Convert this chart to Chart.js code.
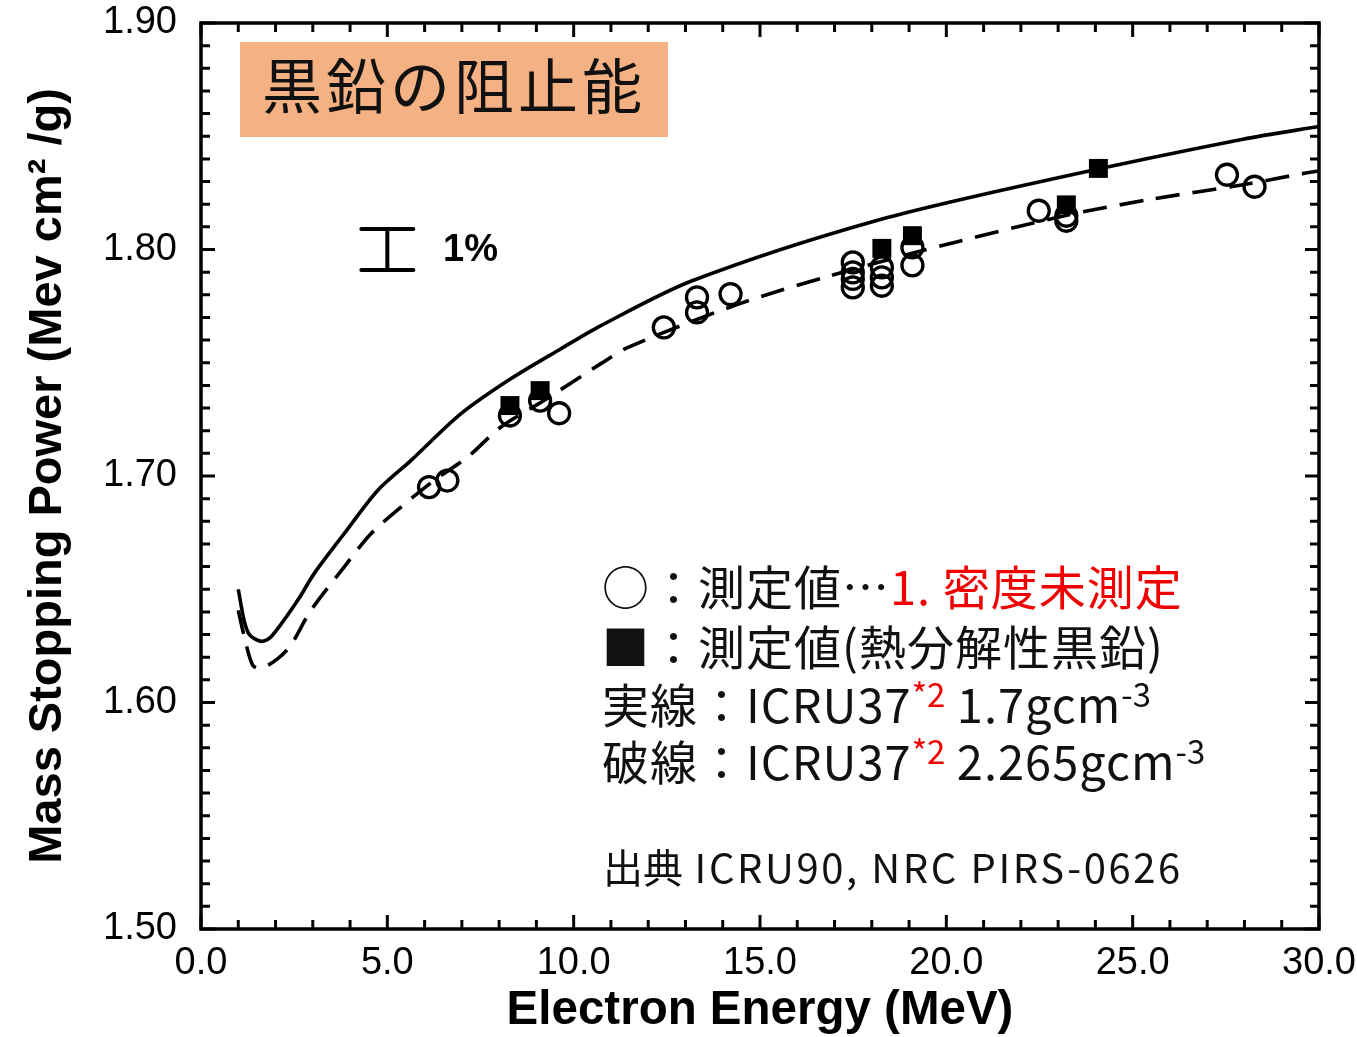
<!DOCTYPE html>
<html>
<head>
<meta charset="utf-8">
<script src="https://cdn.jsdelivr.net/npm/chart.js@4/dist/chart.umd.min.js"></script>
<style>
  html, body { margin: 0; padding: 0; background: #fff; }
  #wrap { position: relative; width: 1357px; height: 1037px; overflow: hidden; }
  canvas { position: absolute; left: 0; top: 0; }
  .ann { position: absolute; white-space: nowrap; font-family: "Noto Sans CJK JP", "Noto Sans", sans-serif; color: #111; line-height: 1; }
  .leg { letter-spacing: 1px; }
  .lat { letter-spacing: 2.6px; }
  .red { color: #f00000; }
  sup { font-size: 0.7em; vertical-align: 0; position: relative; top: -0.5em; line-height: 0; letter-spacing: 0; }
  #titlebox { position: absolute; left: 240px; top: 42px; width: 428px; height: 95px; background: #f4b183; }
</style>
</head>
<body>
<div id="wrap">
  <canvas id="c" width="1357" height="1037"></canvas>
  <div id="titlebox"></div>
  <div class="ann" style="left:262px; top:53px; font-size:60px; letter-spacing:4px;">黒鉛の阻止能</div>
  <div class="ann" style="left:443px; top:229px; font-size:38px; font-weight:bold; font-family:'Liberation Sans', Arial, sans-serif; color:#000;">1%</div>
  <div class="ann leg" style="left:602px; top:561px; font-size:47px;">○：測定値…<span class="red">1. 密度未測定</span></div>
  <div class="ann leg" style="left:602px; top:621px; font-size:47px;">■：測定値(熱分解性黒鉛)</div>
  <div class="ann leg" style="left:602px; top:679px; font-size:47px;">実線：ICRU37<sup class="red">*2</sup> 1.7gcm<sup>-3</sup></div>
  <div class="ann leg" style="left:602px; top:736px; font-size:47px;">破線：ICRU37<sup class="red">*2</sup> 2.265gcm<sup>-3</sup></div>
  <div class="ann" style="left:603px; top:846px; font-size:40px;">出典<span class="lat"> ICRU90, NRC PIRS-0626</span></div>
</div>
<script>
// ---- Data ----
// Solid line: ICRU37, density 1.7 g/cm3
const solidE = [1.0, 1.16, 1.30, 1.61, 1.88, 2.59, 3.04, 3.84, 4.74, 5.63, 6.97, 8.31, 9.65, 10.72, 13.18, 18.11, 23.03, 27.96, 30.0];
const solidV = [1.650, 1.636, 1.630, 1.627, 1.629, 1.645, 1.657, 1.6745, 1.6936, 1.7068, 1.7274, 1.7429, 1.7561, 1.7663, 1.7862, 1.8127, 1.8318, 1.8487, 1.8543];
// Dashed line: ICRU37, density 2.265 g/cm3
const dashE = [1.0, 1.16, 1.39, 1.61, 2.06, 2.41, 2.95, 3.84, 4.56, 5.36, 6.25, 7.15, 8.04, 9.20, 10.72, 11.46, 14.42, 16.88, 19.34, 23.03, 25.50, 27.96, 29.56, 30.0];
const dashV = [1.6407, 1.6292, 1.6164, 1.6151, 1.6194, 1.6253, 1.6407, 1.6598, 1.6745, 1.6862, 1.6980, 1.7083, 1.7215, 1.7333, 1.7495, 1.7568, 1.7759, 1.7884, 1.7994, 1.8144, 1.8222, 1.8286, 1.8335, 1.8347];
// Open circles: measured values (density not measured)
const circleE = [6.12, 6.61, 8.29, 9.10, 9.61, 12.42, 13.31, 13.31, 14.21, 17.49, 17.49, 17.49, 17.49, 18.27, 18.27, 18.27, 19.09, 19.09, 22.48, 23.22, 23.22, 27.53, 28.27];
const circleV = [1.6951, 1.6980, 1.7267, 1.7333, 1.7277, 1.7656, 1.7789, 1.7722, 1.7803, 1.7943, 1.7899, 1.7870, 1.7833, 1.7921, 1.7877, 1.7840, 1.8009, 1.7930, 1.8171, 1.8149, 1.8127, 1.8330, 1.8277];
// Filled squares: measured values (pyrolytic graphite)
const squareE = [8.29, 9.10, 18.27, 19.09, 23.22, 24.08];
const squareV = [1.7311, 1.7377, 1.8005, 1.8061, 1.8197, 1.8358];
// Axes
const xTickLabels = ['0.0', '5.0', '10.0', '15.0', '20.0', '25.0', '30.0'];
const yTickLabels = ['1.50', '1.60', '1.70', '1.80', '1.90'];
const xMin = 0, xMax = 30, xMajor = 5, xMinor = 1;
const yMin = 1.50, yMax = 1.90, yMajor = 0.1, yMinor = 0.01;
// 1% error bar marker
const errBarE = 5.0, errBarV = 1.80, errBarHalf = 0.009;

const pts = (xs, ys) => xs.map((x, i) => ({ x: x, y: ys[i] }));

const framePlugin = {
  id: 'frame',
  afterDatasetsDraw(chart) {
    const { ctx, chartArea: a, scales: { x, y } } = chart;
    ctx.save();
    ctx.strokeStyle = '#000';
    ctx.lineWidth = 3.5;
    ctx.strokeRect(a.left, a.top, a.right - a.left, a.bottom - a.top);
    ctx.lineWidth = 3;
    ctx.beginPath();
    const nx = Math.round((xMax - xMin) / xMinor);
    for (let i = 0; i <= nx; i++) {
      const v = xMin + i * xMinor;
      const px = x.getPixelForValue(v);
      const major = Math.abs(v / xMajor - Math.round(v / xMajor)) < 1e-6;
      const len = major ? 14 : 9;
      ctx.moveTo(px, a.bottom); ctx.lineTo(px, a.bottom - len);
      ctx.moveTo(px, a.top); ctx.lineTo(px, a.top + len);
    }
    const ny = Math.round((yMax - yMin) / yMinor);
    for (let i = 0; i <= ny; i++) {
      const v = yMin + i * yMinor;
      const py = y.getPixelForValue(v);
      const major = i % Math.round(yMajor / yMinor) === 0;
      const len = major ? 14 : 9;
      ctx.moveTo(a.left, py); ctx.lineTo(a.left + len, py);
      ctx.moveTo(a.right, py); ctx.lineTo(a.right - len, py);
    }
    ctx.stroke();
    // 1% error bar
    const ex = x.getPixelForValue(errBarE);
    const ey1 = y.getPixelForValue(errBarV + errBarHalf);
    const ey2 = y.getPixelForValue(errBarV - errBarHalf);
    ctx.lineWidth = 4;
    ctx.lineCap = 'round';
    ctx.beginPath();
    ctx.moveTo(ex, ey1); ctx.lineTo(ex, ey2);
    ctx.moveTo(ex - 26, ey1); ctx.lineTo(ex + 26, ey1);
    ctx.moveTo(ex - 26, ey2); ctx.lineTo(ex + 26, ey2);
    ctx.stroke();
    ctx.restore();
  }
};

const zeroPad = (s) => { s.paddingTop = 0; s.paddingBottom = 0; s.paddingLeft = 0; s.paddingRight = 0; };

new Chart(document.getElementById('c'), {
  type: 'scatter',
  data: {
    datasets: [
      { label: 'ICRU37 1.7', data: pts(solidE, solidV), showLine: true, borderColor: '#000', borderWidth: 3.6,
        pointRadius: 0, tension: 0.3, order: 0 },
      { label: 'ICRU37 2.265', data: pts(dashE, dashV), showLine: true, borderColor: '#000', borderWidth: 3.6,
        borderDash: [24, 13], pointRadius: 0, tension: 0.3, order: 1 },
      { label: 'measured', data: pts(circleE, circleV), pointStyle: 'circle', pointRadius: 10.5,
        pointBorderWidth: 3.3, pointBorderColor: '#000', pointBackgroundColor: 'rgba(0,0,0,0)', order: 2 },
      { label: 'pyrolytic', data: pts(squareE, squareV), pointStyle: 'rect', pointRadius: 13.4,
        pointBorderWidth: 0, pointBackgroundColor: '#000', pointBorderColor: '#000', order: 3 }
    ]
  },
  options: {
    responsive: false,
    animation: false,
    devicePixelRatio: 1,
    layout: { padding: { left: 0, right: 38, top: 23, bottom: 0 } },
    plugins: { legend: { display: false }, tooltip: { enabled: false } },
    scales: {
      x: {
        type: 'linear', min: xMin, max: xMax,
        grid: { display: false, drawTicks: false },
        border: { display: false },
        ticks: {
          stepSize: xMajor, padding: 12, color: '#000',
          font: { family: "'Liberation Sans', Arial, sans-serif", size: 38 },
          maxRotation: 0,
          callback: (v) => xTickLabels[Math.round((v - xMin) / xMajor)]
        },
        title: {
          display: true, text: 'Electron Energy (MeV)', color: '#000',
          font: { family: "'Liberation Sans', Arial, sans-serif", size: 47.5, weight: 'bold', lineHeight: 1.0 },
          padding: { top: 0, bottom: 2 }
        },
        afterFit: (s) => { s.height = 108; zeroPad(s); }
      },
      y: {
        type: 'linear', min: yMin, max: yMax,
        grid: { display: false, drawTicks: false },
        border: { display: false },
        ticks: {
          stepSize: yMajor, padding: 24, color: '#000',
          font: { family: "'Liberation Sans', Arial, sans-serif", size: 38 },
          callback: (v) => yTickLabels[Math.round((v - yMin) / yMajor)]
        },
        title: {
          display: true, text: 'Mass Stopping Power (Mev cm² /g)', color: '#000',
          font: { family: "'Liberation Sans', Arial, sans-serif", size: 47, weight: 'bold', lineHeight: 1.2 },
          padding: { top: 20, bottom: 0 }
        },
        afterFit: (s) => { s.width = 201; zeroPad(s); }
      }
    }
  },
  plugins: [framePlugin]
});
</script>
</body>
</html>
